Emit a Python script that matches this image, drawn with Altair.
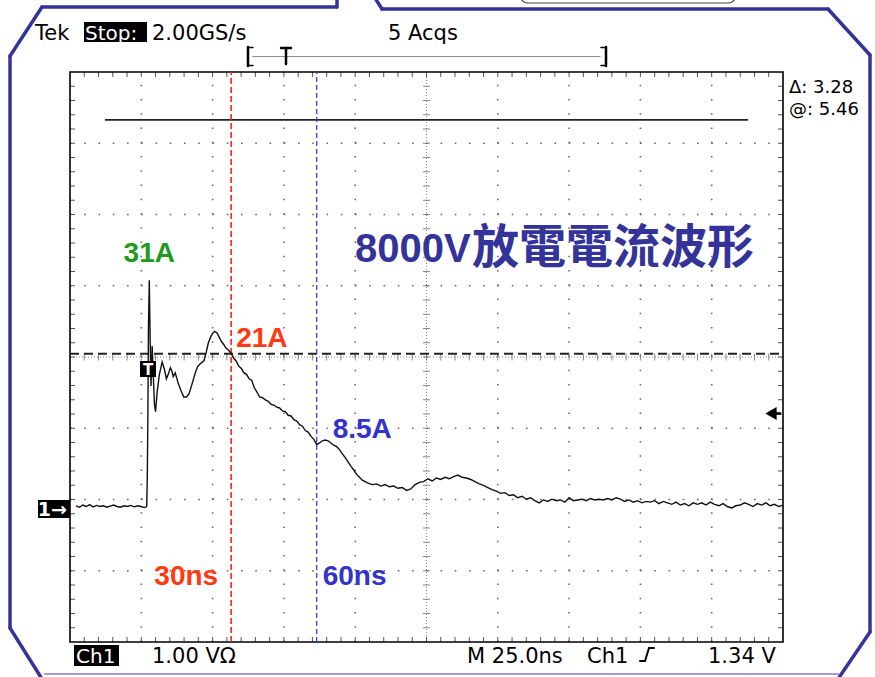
import altair as alt
import pandas as pd

# ---------------- Ch1 record: time (ns) vs discharge current (A) ----------------
pre_t = [-24.4, -23.2, -22.0, -20.8, -19.6, -18.4, -17.2, -16.0, -14.8, -13.6, -12.4,
         -11.2, -10.0, -8.8, -7.6, -6.4, -5.2, -4.0, -2.8, -1.6, -0.4, 0.4]
pre_i = [0.1, -0.1, 0.2, 0.0, 0.25, -0.05, 0.15, 0.0, 0.1, -0.1, 0.05,
         0.2, 0.0, -0.1, 0.1, 0.0, 0.15, -0.05, 0.1, 0.0, -0.15, 0.0]

pulse_t = [0.6, 0.8, 1.0, 1.3, 1.6, 1.9, 2.3, 2.7, 3.1, 3.5, 4.0, 4.8, 5.8, 6.6, 7.3,
           8.0, 8.7, 9.2, 9.7, 10.4, 11.5, 12.5, 13.4, 14.3, 15.2, 16.3, 17.5, 18.3,
           19.0, 20.5, 21.3, 22.0, 22.8, 23.5, 24.2, 25.0, 25.8, 26.6, 27.4, 28.2, 29.1, 30.0]
pulse_i = [4.0, 12.0, 24.5, 31.0, 23.0, 16.5, 22.0, 18.0, 14.0, 13.0, 15.5, 18.0, 19.8, 18.8, 17.5,
           18.2, 19.0, 18.6, 17.8, 18.3, 16.8, 15.8, 15.0, 15.0, 15.4, 16.8, 18.4, 19.2,
           19.5, 20.0, 21.2, 22.4, 23.2, 23.7, 24.0, 23.8, 23.2, 22.6, 22.2, 21.7, 21.4, 21.0]

decay_t = [30.9, 31.8, 32.7, 33.6, 34.5, 35.4, 36.3, 37.2, 38.1, 39.0, 40.0, 41.0, 42.0,
           43.0, 44.0, 45.0, 46.0, 47.0, 48.0, 49.0, 50.0, 51.0, 52.0, 53.0, 54.0, 55.0,
           56.0, 57.0, 58.0, 59.0, 60.0]
decay_i = [20.3, 19.9, 19.2, 18.9, 18.3, 18.1, 17.5, 17.3, 16.3, 15.7, 15.0, 14.9, 14.6,
           14.4, 14.0, 13.9, 13.6, 13.5, 13.1, 13.0, 12.5, 12.4, 11.9, 11.7, 11.2, 11.0,
           10.4, 10.2, 9.6, 9.2, 8.5]

settle_t = [61.0, 62.0, 63.0, 64.0, 65.0, 66.0, 67.0, 68.0, 69.0, 70.0, 71.0, 72.0,
            73.0, 74.0, 75.0, 76.0, 77.0]
settle_i = [8.7, 9.0, 9.1, 9.0, 8.7, 8.4, 8.2, 7.8, 7.2, 6.7, 6.1, 5.5,
            5.0, 4.4, 4.0, 3.6, 3.4]

tail_t = [78.0, 79.5, 81.0, 82.5, 84.0, 85.5, 87.0, 88.5, 90.0, 91.5, 93.0, 94.5, 96.0,
          97.5, 99.0, 100.5, 102.0, 103.5, 105.0, 106.5, 108.0, 109.5, 111.0, 112.5,
          114.0, 115.5, 117.0, 118.5, 120.0, 121.5, 123.0, 124.5, 126.0, 127.5, 129.0,
          130.5, 132.0, 133.5, 135.0, 136.5, 138.0, 139.5, 141.0, 142.5, 144.0, 145.5,
          147.0, 148.5, 150.0, 151.5, 153.0, 154.5, 156.0, 157.5, 159.0, 160.5, 162.0,
          163.5, 165.0, 166.5, 168.0, 169.5, 171.0, 172.5, 174.0, 175.5, 177.0, 178.5,
          180.0, 181.5, 183.0, 184.5, 186.0, 187.5, 189.0, 190.5, 192.0, 193.5, 195.0,
          196.5, 198.0, 199.5, 201.0, 202.5, 204.0, 205.5, 207.0, 208.5, 210.0, 211.5,
          213.0, 214.5, 216.0, 217.5, 219.0, 220.5, 222.0, 223.5]
tail_i = [3.2, 3.0, 3.1, 2.8, 3.0, 2.7, 2.8, 2.5, 2.6, 2.2, 2.4, 3.0, 3.3,
          3.4, 3.8, 3.5, 3.9, 3.7, 4.0, 3.8, 4.1, 4.3, 4.0, 3.9,
          3.7, 3.4, 3.1, 2.9, 2.6, 2.3, 2.1, 1.8, 1.9, 1.5, 1.6,
          1.2, 1.4, 1.0, 1.2, 0.8, 0.5, 0.9, 0.7, 1.0, 0.8, 0.9,
          0.6, 1.2, 0.8, 0.9, 1.0, 0.8, 1.1, 0.9, 1.0, 0.9, 1.1,
          0.9, 1.2, 1.0, 0.7, 0.9, 0.6, 0.8, 0.5, 0.7, 0.6, 0.8,
          0.4, 0.7, 0.5, 0.3, 0.6, 0.2, 0.4, 0.1, 0.5, 0.3, 0.5,
          0.2, 0.6, 0.3, 0.1, 0.4, 0.0, -0.2, 0.1, 0.2, 0.5, 0.3,
          0.0, 0.4, 0.2, 0.5, 0.1, 0.3, 0.0, 0.2]

time_ns = pre_t + pulse_t + decay_t + settle_t + tail_t
current_a = pre_i + pulse_i + decay_i + settle_i + tail_i

# annotated readings
peak_t, peak_a = 1.3, 31.0
cursor_t = [30, 60]
cursor_a = [21.0, 8.5]

# scope settings / cursor readouts (volts, 1 V per division)
ch1_position_div = 1.867
cursor_at_v = 5.46
cursor_delta_v = 3.28
trigger_level_v = 1.34

# ---------------- screen geometry ----------------
W, H = 713, 570
T_DOMAIN = [-26.5, 223.5]
A_DOMAIN = [-18.56, 59.52]
xs = alt.Scale(domain=T_DOMAIN, nice=False, zero=False)
ys = alt.Scale(domain=A_DOMAIN, nice=False, zero=False)
gx = alt.Scale(domain=[0, 10], nice=False, zero=False)
gy = alt.Scale(domain=[0, 8], nice=False, zero=False)

SCOPE_FONT = "DejaVu Sans, sans-serif"
LABEL_FONT = "Liberation Sans, Arial, Noto Sans CJK TC, sans-serif"
CJK_FONT = "Noto Sans CJK TC, Noto Sans CJK JP, sans-serif"
FRAME = "#333399"

one = alt.Data(values=[{}])


def seg(x1, y1, x2, y2, color=FRAME, width=3.5, dash=None):
    kw = dict(color=color, strokeWidth=width, strokeCap="round")
    if dash:
        kw["strokeDash"] = dash
    return alt.Chart(one).mark_rule(**kw).encode(
        x=alt.value(x1), y=alt.value(y1), x2=alt.value(x2), y2=alt.value(y2))


def label(txt, x, y, size=21, color="black", font=SCOPE_FONT, weight="normal", align="left"):
    return alt.Chart(one).mark_text(
        text=txt, fontSize=size, color=color, font=font, fontWeight=weight,
        align=align, baseline="alphabetic").encode(x=alt.value(x), y=alt.value(y))


def box(x1, y1, x2, y2, color="black"):
    return alt.Chart(one).mark_rect(color=color).encode(
        x=alt.value(x1), y=alt.value(y1), x2=alt.value(x2), y2=alt.value(y2))


# ---------------- graticule (divisions) ----------------
minor = [k / 5 for k in range(1, 50)]
minor_y = [k / 5 for k in range(1, 40)]

frame_df = pd.DataFrame({"x0": [0], "x1": [10], "y0": [0], "y1": [8]})
vgrid_df = pd.DataFrame({"x": [1, 2, 3, 4, 6, 7, 8, 9], "y0": 0, "y1": 8})
hgrid_df = pd.DataFrame({"y": [1, 2, 3, 5, 6, 7], "x0": 0, "x1": 10})
xt_df = pd.DataFrame({"x": minor})
yt_df = pd.DataFrame({"y": minor_y})

dot = dict(color="#6a6a6a", strokeWidth=1.6, strokeDash=[1.6, 12.65])

g_frame = alt.Chart(frame_df).mark_rect(fillOpacity=0, stroke="black", strokeWidth=1.6).encode(
    x=alt.X("x0:Q", scale=gx, axis=None), x2="x1:Q",
    y=alt.Y("y0:Q", scale=gy, axis=None), y2="y1:Q")
g_v = alt.Chart(vgrid_df).mark_rule(**dot).encode(
    x=alt.X("x:Q", scale=gx, axis=None), y=alt.Y("y0:Q", scale=gy, axis=None), y2="y1:Q")
g_h = alt.Chart(hgrid_df).mark_rule(**dot).encode(
    y=alt.Y("y:Q", scale=gy, axis=None), x=alt.X("x0:Q", scale=gx, axis=None), x2="x1:Q")

center_v = alt.Chart(pd.DataFrame({"x": [5], "y0": [0], "y1": [8]})).mark_rule(
    color="#8a8a8a", strokeWidth=1, strokeDash=[1, 2]).encode(
    x=alt.X("x:Q", scale=gx, axis=None), y=alt.Y("y0:Q", scale=gy, axis=None), y2="y1:Q")
center_h = alt.Chart(pd.DataFrame({"y": [4], "x0": [0], "x1": [10]})).mark_rule(
    color="#8a8a8a", strokeWidth=1, strokeDash=[1, 2]).encode(
    y=alt.Y("y:Q", scale=gy, axis=None), x=alt.X("x0:Q", scale=gx, axis=None), x2="x1:Q")

tick_style = dict(color="#555555", strokeWidth=1)
top_ticks = alt.Chart(xt_df.assign(y=8)).mark_rule(y2Offset=5, **tick_style).encode(
    x=alt.X("x:Q", scale=gx, axis=None), y=alt.Y("y:Q", scale=gy, axis=None), y2="y:Q")
bot_ticks = alt.Chart(xt_df.assign(y=0)).mark_rule(y2Offset=-5, **tick_style).encode(
    x=alt.X("x:Q", scale=gx, axis=None), y=alt.Y("y:Q", scale=gy, axis=None), y2="y:Q")
left_ticks = alt.Chart(yt_df.assign(x=0)).mark_rule(x2Offset=5, **tick_style).encode(
    y=alt.Y("y:Q", scale=gy, axis=None), x=alt.X("x:Q", scale=gx, axis=None), x2="x:Q")
right_ticks = alt.Chart(yt_df.assign(x=10)).mark_rule(x2Offset=-5, **tick_style).encode(
    y=alt.Y("y:Q", scale=gy, axis=None), x=alt.X("x:Q", scale=gx, axis=None), x2="x:Q")
cv_ticks = alt.Chart(yt_df.assign(x=5)).mark_tick(orient="horizontal", size=7, thickness=1,
                                                   color="#555555").encode(
    y=alt.Y("y:Q", scale=gy, axis=None), x=alt.X("x:Q", scale=gx, axis=None))
ch_ticks = alt.Chart(xt_df.assign(y=4)).mark_tick(orient="vertical", size=7, thickness=1,
                                                  color="#555555").encode(
    x=alt.X("x:Q", scale=gx, axis=None), y=alt.Y("y:Q", scale=gy, axis=None))

# horizontal bar cursors and channel markers, in volts above the Ch1 ground
cur_df = pd.DataFrame({
    "y": [ch1_position_div + cursor_at_v, ch1_position_div + cursor_at_v - cursor_delta_v],
    "x0": [0.49, 0.0], "x1": [9.51, 10.0]})
cur_active = alt.Chart(cur_df.iloc[[0]]).mark_rule(color="#222222", strokeWidth=1.8).encode(
    y=alt.Y("y:Q", scale=gy, axis=None), x=alt.X("x0:Q", scale=gx, axis=None), x2="x1:Q")
cur_ref = alt.Chart(cur_df.iloc[[1]]).mark_rule(color="#222222", strokeWidth=2,
                                                strokeDash=[9, 5]).encode(
    y=alt.Y("y:Q", scale=gy, axis=None), x=alt.X("x0:Q", scale=gx, axis=None), x2="x1:Q")

# trigger level arrow at the right edge
trig_df = pd.DataFrame({"x": [10], "y": [ch1_position_div + trigger_level_v]})
trig_shaft = alt.Chart(trig_df).mark_rule(color="black", strokeWidth=2.6, xOffset=-2,
                                          x2Offset=-12).encode(
    x=alt.X("x:Q", scale=gx, axis=None), x2="x:Q", y=alt.Y("y:Q", scale=gy, axis=None))
trig_head = alt.Chart(trig_df).mark_point(shape="triangle-left", filled=True, size=170,
                                          color="black", opacity=1, xOffset=-12).encode(
    x=alt.X("x:Q", scale=gx, axis=None), y=alt.Y("y:Q", scale=gy, axis=None))

gnd_df = pd.DataFrame({"x": [0], "y": [ch1_position_div]})
gnd_box = alt.Chart(gnd_df).mark_rect(color="black", xOffset=-32, x2Offset=0,
                                      yOffset=-9, y2Offset=9).encode(
    x=alt.X("x:Q", scale=gx, axis=None), x2="x:Q", y=alt.Y("y:Q", scale=gy, axis=None), y2="y:Q")
gnd_txt = alt.Chart(gnd_df).mark_text(text="1→", fontSize=19, color="white", align="right",
                                      baseline="middle", dx=-3, dy=1, font=SCOPE_FONT,
                                      fontWeight="bold").encode(
    x=alt.X("x:Q", scale=gx, axis=None), y=alt.Y("y:Q", scale=gy, axis=None))

graticule = alt.layer(g_v, g_h, center_v, center_h, top_ticks, bot_ticks, left_ticks,
                      right_ticks, cv_ticks, ch_ticks, g_frame, cur_active, cur_ref,
                      trig_shaft, trig_head, gnd_box, gnd_txt)

# ---------------- waveform, time cursors and readings ----------------
wave_df = pd.DataFrame({"t": time_ns, "i": current_a})
vcur_df = pd.DataFrame({"t": cursor_t, "i": cursor_a, "lo": A_DOMAIN[0], "hi": A_DOMAIN[1],
                        "tl": ["30ns", "60ns"], "il": ["21A", "8.5A"]})

wave = alt.Chart(wave_df).mark_line(color="#111111", strokeWidth=1.4, interpolate="linear").encode(
    x=alt.X("t:Q", scale=xs, axis=None), y=alt.Y("i:Q", scale=ys, axis=None), order="t:Q")

red_c = alt.Chart(vcur_df.iloc[[0]]).mark_rule(color="#ff2020", strokeWidth=1.6,
                                               strokeDash=[6, 3]).encode(
    x=alt.X("t:Q", scale=xs, axis=None), y=alt.Y("lo:Q", scale=ys, axis=None), y2="hi:Q")
blue_c = alt.Chart(vcur_df.iloc[[1]]).mark_rule(color="#3344cc", strokeWidth=1.3,
                                                strokeDash=[5, 3]).encode(
    x=alt.X("t:Q", scale=xs, axis=None), y=alt.Y("lo:Q", scale=ys, axis=None), y2="hi:Q")

BOLD = dict(font=LABEL_FONT, fontWeight="bold", fontSize=28, baseline="alphabetic")
peak_lbl = alt.Chart(pd.DataFrame({"t": [peak_t], "i": [peak_a]})).mark_text(
    text="31A", color="#1e9a1e", align="center", dy=-18, **BOLD).encode(
    x=alt.X("t:Q", scale=xs, axis=None), y=alt.Y("i:Q", scale=ys, axis=None))
a21_lbl = alt.Chart(vcur_df.iloc[[0]]).mark_text(color="#ff3a10", align="left", dx=5, dy=-6,
                                                 **BOLD).encode(
    x=alt.X("t:Q", scale=xs, axis=None), y=alt.Y("i:Q", scale=ys, axis=None), text="il:N")
a85_lbl = alt.Chart(vcur_df.iloc[[1]]).mark_text(color="#3333cc", align="left", dx=16, dy=-6,
                                                 **BOLD).encode(
    x=alt.X("t:Q", scale=xs, axis=None), y=alt.Y("i:Q", scale=ys, axis=None), text="il:N")
t30_lbl = alt.Chart(vcur_df.iloc[[0]]).mark_text(color="#ff3a10", align="right", dx=-13,
                                                 **BOLD).encode(
    x=alt.X("t:Q", scale=xs, axis=None), y=alt.value(513), text="tl:N")
t60_lbl = alt.Chart(vcur_df.iloc[[1]]).mark_text(color="#3333cc", align="left", dx=6,
                                                 **BOLD).encode(
    x=alt.X("t:Q", scale=xs, axis=None), y=alt.value(513), text="tl:N")

trace = alt.layer(red_c, blue_c, wave, peak_lbl, a21_lbl, a85_lbl, t30_lbl, t60_lbl)

# ---------------- screen text, markers and outer frame (pixels from plot origin) ----------------
ox, oy = 70, 72
deco = [
    label("Tek", 35 - ox, 40 - oy),
    box(84 - ox, 22 - oy, 147 - ox, 42 - oy),
    label("Stop:", 85 - ox, 40 - oy, color="white", size=20),
    label("2.00GS/s", 152 - ox, 40 - oy),
    label("5 Acqs", 388 - ox, 40 - oy),
    # record view bracket
    seg(248 - ox, 47 - oy, 248 - ox, 66 - oy, "black", 2.5),
    seg(248 - ox, 47.5 - oy, 253 - ox, 47.5 - oy, "black", 1.5),
    seg(248 - ox, 65.5 - oy, 253 - ox, 65.5 - oy, "black", 1.5),
    seg(606 - ox, 47 - oy, 606 - ox, 66 - oy, "black", 2.5),
    seg(601 - ox, 47.5 - oy, 606 - ox, 47.5 - oy, "black", 1.5),
    seg(601 - ox, 65.5 - oy, 606 - ox, 65.5 - oy, "black", 1.5),
    seg(253 - ox, 56.5 - oy, 601 - ox, 56.5 - oy, "#777777", 1, [1, 1]),
    seg(281 - ox, 48 - oy, 291 - ox, 48 - oy, "black", 2.5),
    seg(286 - ox, 48 - oy, 286 - ox, 64 - oy, "black", 2.5),
    # trigger position marker on the trace
    box(140 - ox, 361 - oy, 156 - ox, 377 - oy),
    label("T", 148 - ox, 375 - oy, size=15, color="white", align="center", weight="bold"),
    # cursor readouts
    label("Δ: 3.28", 789 - ox, 93 - oy, size=18),
    label("@: 5.46", 789 - ox, 115 - oy, size=18),
    # bottom status line
    box(74 - ox, 645 - oy, 119 - ox, 666 - oy),
    label("Ch1", 76 - ox, 663 - oy, color="white", size=20),
    label("1.00 VΩ", 152 - ox, 663 - oy),
    label("M 25.0ns", 467 - ox, 663 - oy),
    label("Ch1", 587 - ox, 663 - oy),
    seg(640 - ox, 661 - oy, 645 - ox, 661 - oy, "black", 2),
    seg(645 - ox, 661 - oy, 649 - ox, 648 - oy, "black", 2),
    seg(649 - ox, 648 - oy, 654 - ox, 648 - oy, "black", 2),
    label("1.34 V", 708 - ox, 663 - oy),
    # title
    label("8000V", 355 - ox, 262 - oy, size=40, color="#333399", font=LABEL_FONT, weight="bold"),
    label("放電電流波形", 472 - ox, 263 - oy, size=47, color="#333399", font=CJK_FONT,
          weight="bold"),
    # outer frame
    box(871 - ox, 0 - oy, 880 - ox, 677 - oy, "white"),
    seg(337 - ox, -2 - oy, 337 - ox, 7 - oy),
    seg(337 - ox, 7 - oy, 42 - ox, 7 - oy),
    seg(42 - ox, 7 - oy, 10 - ox, 56 - oy),
    seg(10 - ox, 56 - oy, 10 - ox, 628 - oy),
    seg(10 - ox, 628 - oy, 42 - ox, 679 - oy),
    seg(45 - ox, 674 - oy, 838 - ox, 674 - oy, "#9f9fe0", 2),
    seg(375 - ox, -2 - oy, 382 - ox, 9 - oy),
    seg(382 - ox, 9 - oy, 828 - ox, 9 - oy),
    seg(828 - ox, 9 - oy, 870 - ox, 55 - oy),
    seg(870 - ox, 55 - oy, 870 - ox, 632 - oy),
    seg(870 - ox, 632 - oy, 838 - ox, 679 - oy),
    alt.Chart(one).mark_rect(fillOpacity=0, stroke="#444444", strokeWidth=1.2,
                             cornerRadius=8).encode(
        x=alt.value(520 - ox), x2=alt.value(736 - ox), y=alt.value(-20 - oy), y2=alt.value(3 - oy)),
]

chart = alt.layer(graticule, trace, *deco).resolve_scale(
    x="independent", y="independent"
).properties(
    width=W, height=H,
    autosize=alt.AutoSizeParams(type="none"),
    padding={"left": 70, "top": 72, "right": 92, "bottom": 35},
    background="white",
).configure_view(stroke=None)

chart.save("out.html", embed_options={"renderer": "svg", "actions": False})
